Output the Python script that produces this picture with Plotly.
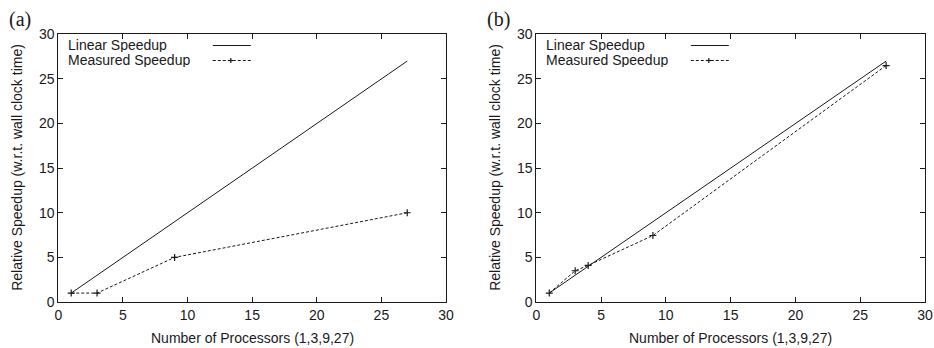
import plotly.graph_objects as go

# ---- data ----
procs_linear = [1, 27]
speedup_linear = [1, 27]

procs_a = [1, 3, 9, 27]
speedup_a = [1, 1, 5, 10]

procs_b = [1, 3, 4, 9, 27]
speedup_b = [1, 3.5, 4.1, 7.45, 26.5]

ticks = [0, 5, 10, 15, 20, 25, 30]
legend_labels = ["Linear Speedup", "Measured Speedup"]
panel_labels = ["(a)", "(b)"]
xtitle = "Number of Processors (1,3,9,27)"
ytitle = "Relative Speedup (w.r.t. wall clock time)"

W, H = 934, 348
FONT = "Liberation Sans, Arial, Helvetica, sans-serif"
SERIF = "Liberation Serif, Times New Roman, serif"
INK = "#1a1a1a"
FS = 14

# panel pixel boxes
xa = (58.3, 446.0)
xb = (536.3, 925.0)
ytop, ybot = 34.3, 302.0

def px(x):
    return x / W

def py(y):
    return 1 - y / H

fig = go.Figure()

line_solid = dict(color=INK, width=1)
line_dash = dict(color=INK, width=1, dash="3px,2px")
marker = dict(symbol="cross-thin", size=5, line=dict(color=INK, width=1.2), color=INK)

for i, (xs, ys) in enumerate([(procs_a, speedup_a), (procs_b, speedup_b)]):
    ax = "x" if i == 0 else "x2"
    ay = "y" if i == 0 else "y2"
    fig.add_trace(go.Scatter(x=procs_linear, y=speedup_linear, mode="lines",
                             line=line_solid, xaxis=ax, yaxis=ay, showlegend=False))
    fig.add_trace(go.Scatter(x=xs, y=ys, mode="lines+markers", line=line_dash,
                             marker=marker, xaxis=ax, yaxis=ay, showlegend=False))

axis_common = dict(range=[0, 30], tickvals=ticks, ticks="inside", ticklen=5,
                   tickcolor=INK, showline=True, linecolor=INK, linewidth=1,
                   mirror="ticks", showgrid=False, zeroline=False, automargin=False,
                   tickfont=dict(family=FONT, size=FS, color=INK))

fig.update_layout(
    width=W, height=H,
    margin=dict(l=0, r=0, t=0, b=0, pad=0, autoexpand=False),
    showlegend=False,
    paper_bgcolor="white", plot_bgcolor="white",
    xaxis=dict(domain=[px(xa[0]), px(xa[1])], anchor="y", **axis_common),
    yaxis=dict(domain=[py(ybot), py(ytop)], anchor="x", **axis_common),
    xaxis2=dict(domain=[px(xb[0]), px(xb[1])], anchor="y2", **axis_common),
    yaxis2=dict(domain=[py(ybot), py(ytop)], anchor="x2", **axis_common),
)

annotations = []
shapes = []
for (x0, x1), lab in [(xa, panel_labels[0]), (xb, panel_labels[1])]:
    # panel label
    annotations.append(dict(text=lab, x=px(x0 - 51.5), y=py(19), xref="paper", yref="paper",
                            xanchor="left", yanchor="middle", showarrow=False,
                            font=dict(family=SERIF, size=20, color=INK)))
    # axis titles
    annotations.append(dict(text=xtitle, x=px((x0 + x1) / 2), y=py(338), xref="paper", yref="paper",
                            xanchor="center", yanchor="middle", showarrow=False,
                            font=dict(family=FONT, size=FS, color=INK)))
    annotations.append(dict(text=ytitle, x=px(x0 - 41.5), y=py(167), xref="paper",
                            yref="paper", xanchor="center", yanchor="middle", textangle=-90,
                            showarrow=False, font=dict(family=FONT, size=FS, color=INK)))
    # legend
    for j, (lab2, yy) in enumerate(zip(legend_labels, [45, 60])):
        annotations.append(dict(text=lab2, x=px(x0 + 8.3), y=py(yy), xref="paper", yref="paper",
                                xanchor="left", yanchor="middle", showarrow=False,
                                height=14, borderpad=0,
                                font=dict(family=FONT, size=FS, color=INK)))
        shapes.append(dict(type="line", xref="paper", yref="paper",
                           x0=px(x0 + 154.5), x1=px(x0 + 192.5), y0=py(yy + 0.5), y1=py(yy + 0.5),
                           line=dict(color=INK, width=1, dash="solid" if j == 0 else "3px,2px")))
    # legend marker
    cx = x0 + 172.5
    shapes.append(dict(type="line", xref="paper", yref="paper", x0=px(cx - 2.5), x1=px(cx + 2.5),
                       y0=py(60.5), y1=py(60.5), line=dict(color=INK, width=1.2)))
    shapes.append(dict(type="line", xref="paper", yref="paper", x0=px(cx), x1=px(cx),
                       y0=py(58), y1=py(63), line=dict(color=INK, width=1.2)))

fig.update_layout(annotations=annotations, shapes=shapes)
fig.write_html("out.html", config={"displayModeBar": False},
               post_script="document.body.style.margin='0';document.body.style.overflow='hidden';")
